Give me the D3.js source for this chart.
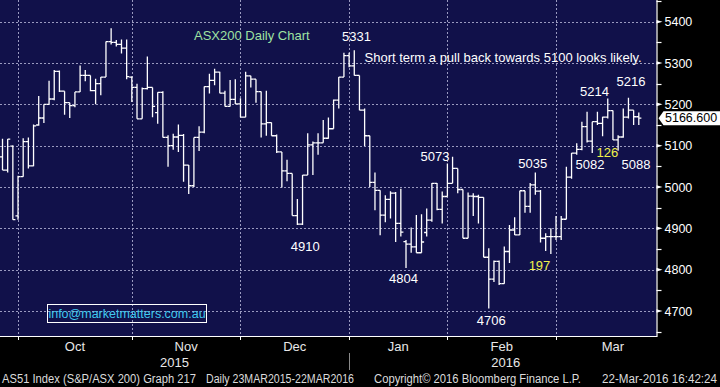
<!DOCTYPE html>
<html><head><meta charset="utf-8">
<script src="https://cdn.jsdelivr.net/npm/d3@7"></script>
<style>
body{margin:0;background:#000;}
svg{display:block;font-family:"Liberation Sans",Arial,sans-serif;}
</style>
</head><body><svg id="c" width="720" height="387"></svg>
<script>
// ---------- DATA ----------
const dates = [
 "2015-09-25","2015-09-28","2015-09-29","2015-09-30",
 "2015-10-01","2015-10-02","2015-10-05","2015-10-06","2015-10-07","2015-10-08","2015-10-09","2015-10-12","2015-10-13","2015-10-14","2015-10-15","2015-10-16","2015-10-19","2015-10-20","2015-10-21","2015-10-22","2015-10-23","2015-10-26","2015-10-27","2015-10-28","2015-10-29","2015-10-30",
 "2015-11-02","2015-11-03","2015-11-04","2015-11-05","2015-11-06","2015-11-09","2015-11-10","2015-11-11","2015-11-12","2015-11-13","2015-11-16","2015-11-17","2015-11-18","2015-11-19","2015-11-20","2015-11-23","2015-11-24","2015-11-25","2015-11-26","2015-11-27","2015-11-30",
 "2015-12-01","2015-12-02","2015-12-03","2015-12-04","2015-12-07","2015-12-08","2015-12-09","2015-12-10","2015-12-11","2015-12-14","2015-12-15","2015-12-16","2015-12-17","2015-12-18","2015-12-21","2015-12-22","2015-12-23","2015-12-24","2015-12-29","2015-12-30","2015-12-31",
 "2016-01-04","2016-01-05","2016-01-06","2016-01-07","2016-01-08","2016-01-11","2016-01-12","2016-01-13","2016-01-14","2016-01-15","2016-01-18","2016-01-19","2016-01-20","2016-01-21","2016-01-22","2016-01-25","2016-01-27","2016-01-28","2016-01-29",
 "2016-02-01","2016-02-02","2016-02-03","2016-02-04","2016-02-05","2016-02-08","2016-02-09","2016-02-10","2016-02-11","2016-02-12","2016-02-15","2016-02-16","2016-02-17","2016-02-18","2016-02-19","2016-02-22","2016-02-23","2016-02-24","2016-02-25","2016-02-26","2016-02-29",
 "2016-03-01","2016-03-02","2016-03-03","2016-03-04","2016-03-07","2016-03-08","2016-03-09","2016-03-10","2016-03-11","2016-03-14","2016-03-15","2016-03-16","2016-03-17","2016-03-18","2016-03-21","2016-03-22"
];
const open = [5073,5041,5099,4930,5025,5110,5051,5150,5167,5200,5213,5280,5232,5204,5197,5230,5270,5270,5233,5250,5266,5352,5350,5345,5336,5266,
 5241,5165,5238,5241,5180,5229,5120,5100,5121,5125,5053,5003,5120,5133,5243,5258,5278,5227,5195,5212,5201,
 5169,5269,5261,5231,5153,5156,5124,5085,5039,5033,4931,4910,5029,5102,5107,5107,5118,5141,5210,5266,5318,
 5293,5270,5186,5124,5011,4992,4932,4970,4985,4912,4868,4862,4855,4841,4890,4920,5009,4946,4977,
 5009,5045,4994,4876,4978,4977,4975,4830,4777,4820,4766,4844,4896,4884,4991,4953,5005,4990,4876,4880,4880,
 4880,4922,5024,5082,5091,5146,5111,5158,5154,5169,5185,5114,5121,5169,5186,5170];
const high = [5117,5116,5101,5027,5118,5120,5151,5220,5200,5257,5283,5282,5232,5204,5230,5294,5283,5270,5262,5266,5352,5384,5356,5357,5357,5268,
 5250,5241,5316,5241,5229,5232,5125,5129,5151,5128,5053,5120,5147,5243,5274,5286,5279,5233,5259,5261,5215,
 5279,5269,5261,5231,5233,5156,5127,5085,5066,5033,4971,5029,5130,5110,5130,5162,5168,5212,5266,5325,5325,
 5331,5270,5190,5124,5035,4992,4980,4990,4988,4996,4872,4902,4932,4934,4948,5010,5010,4989,5057,
 5073,5045,4994,4987,4985,4981,4975,4852,4822,4822,4856,4908,4927,4991,4991,5010,5035,4993,4888,4900,4930,
 4930,5049,5082,5106,5158,5182,5158,5182,5170,5214,5185,5125,5190,5216,5186,5180];
const low = [5041,5035,4921,4921,5025,5045,5050,5148,5155,5200,5210,5230,5175,5167,5193,5230,5256,5232,5200,5222,5266,5345,5340,5323,5261,5206,
 5165,5165,5236,5169,5153,5120,5049,5090,5085,5013,4983,5000,5087,5130,5226,5246,5227,5195,5195,5201,5169,
 5169,5241,5204,5120,5124,5124,5082,4999,5014,4931,4908,4908,5029,5029,5078,5107,5117,5141,5190,5266,5290,
 5270,5186,5099,5000,4944,4883,4915,4924,4867,4880,4804,4841,4841,4841,4880,4916,4944,4912,4977,
 5009,4985,4876,4876,4930,4912,4830,4706,4770,4763,4766,4816,4884,4884,4938,4938,4981,4866,4845,4838,4872,
 4872,4922,5020,5078,5089,5108,5082,5150,5123,5166,5114,5088,5119,5166,5150,5150];
const close = [5041,5116,4921,5025,5110,5051,5148,5167,5200,5213,5280,5232,5204,5197,5230,5270,5270,5233,5250,5266,5352,5350,5345,5336,5267,5241,
 5165,5238,5241,5195,5229,5120,5100,5121,5125,5053,5003,5120,5133,5243,5258,5278,5227,5195,5212,5201,5169,
 5269,5261,5231,5153,5156,5124,5085,5039,5033,4931,4910,5029,5102,5107,5107,5118,5141,5210,5266,5318,5293,
 5270,5186,5124,5011,4992,4932,4970,4985,4912,4891,4862,4855,4841,4867,4920,5009,4946,4977,5009,
 5045,4994,4876,4978,4977,4975,4830,4777,4820,4766,4844,4896,4884,4991,4953,5005,4990,4876,4880,4880,4880,
 4922,5024,5082,5091,5146,5111,5158,5154,5169,5185,5114,5121,5169,5186,5170,5166.6];
const lastPrice = 5166.6;
const yTicks = [4700,4800,4900,5000,5100,5200,5300,5400];
const yMinorTicks = [4650,4750,4850,4950,5050,5150,5250,5350,5450];
const monthStarts = ["2015-10-01","2015-11-02","2015-12-01","2016-01-04","2016-02-01","2016-03-01"];
const monthLabels = ["Oct","Nov","Dec","Jan","Feb","Mar"];
const lastMonthTradingDays = 22;
const yearLabels = ["2015","2016"];
const yearBoundary = "2016-01-04";
const footer = ["AS51 Index (S&P/ASX 200) Graph 217","Daily 23MAR2015-22MAR2016","Copyright\u00A9 2016 Bloomberg Finance L.P.","22-Mar-2016 16:42:24"];
const chartTitle = "ASX200 Daily Chart";
const comment = "Short term a pull back towards 5100 looks likely.";
const contact = "info@marketmatters.com.au";

// ---------- LAYOUT ----------
const W = 720, H = 387, plotR = 656.5, plotB = 336;
const svg = d3.select("#c");
const x = d3.scalePoint().domain(dates).range([2.5, 638.8]);
const step = x.step();
const y = d3.scaleLinear().domain([4700, 5400]).range([311, 21.7]);

svg.append("rect").attr("width", W).attr("height", H).attr("fill", "#000");
svg.append("rect").attr("width", plotR).attr("height", plotB).attr("fill", "#11114a");

// grid
const grid = svg.append("g").attr("stroke", "#9a9ac0").attr("stroke-width", 1).attr("stroke-dasharray", "2,2");
yTicks.forEach(v => {
  const yy = Math.round(y(v)) + 0.5;
  grid.append("line").attr("x1", 0).attr("x2", plotR).attr("y1", yy).attr("y2", yy);
});
const gridX = monthStarts.map(d => x(dates[dates.indexOf(d) - 1]));
gridX.forEach(gx => {
  const xx = Math.round(gx) + 0.5;
  grid.append("line").attr("x1", xx).attr("x2", xx).attr("y1", 0).attr("y2", plotB);
});

// OHLC bars
const t = step / 2;
const bars = svg.append("g").attr("stroke", "#fff").attr("stroke-width", 1.3).attr("fill", "none");
dates.forEach((d, i) => {
  const xx = x(d);
  bars.append("path").attr("d",
    `M${xx},${y(high[i])}V${y(low[i])}M${xx - t},${y(open[i])}H${xx}M${xx},${y(close[i])}H${xx + t}`);
});

// axes lines
svg.append("line").attr("x1", 0).attr("x2", plotR + 0.5).attr("y1", plotB + 0.5).attr("y2", plotB + 0.5).attr("stroke", "#fff").attr("stroke-width", 1.2);
svg.append("line").attr("x1", plotR + 0.5).attr("x2", plotR + 0.5).attr("y1", 0).attr("y2", plotB + 1).attr("stroke", "#fff").attr("stroke-width", 1.2);

// right axis via d3 axis
const yAxis = d3.axisRight(y).tickValues(yTicks).tickSize(0).tickPadding(8).tickFormat(d3.format("d"));
const ya = svg.append("g").attr("transform", `translate(${plotR},0)`).call(yAxis);
ya.select(".domain").remove();
ya.selectAll("text").attr("fill", "#fff").attr("font-size", 12.5).attr("font-family", "Liberation Sans, Arial, sans-serif");
yTicks.forEach(v => {
  const yy = y(v);
  svg.append("path").attr("d", `M${plotR},${yy - 1.8}L${plotR + 6},${yy}L${plotR},${yy + 1.8}Z`).attr("fill", "#fff");
});
yMinorTicks.forEach(v => {
  const yy = Math.round(y(v)) + 0.5;
  svg.append("line").attr("x1", plotR).attr("x2", plotR + 5).attr("y1", yy).attr("y2", yy).attr("stroke", "#fff").attr("stroke-width", 1.2);
});

// last price flag
const yl = y(lastPrice);
svg.append("path").attr("d", `M${plotR + 2},${yl}L${plotR + 7},${yl - 7}L${W},${yl - 7}L${W},${yl + 7}L${plotR + 7},${yl + 7}Z`).attr("fill", "#fff");
svg.append("text").attr("x", plotR + 8.5).attr("y", yl).attr("dominant-baseline", "central")
  .attr("font-size", 12.5).attr("fill", "#000").text(d3.format(".3f")(lastPrice));

// x axis ticks & labels
gridX.forEach(gx => {
  const xx = Math.round(gx) + 0.5;
  svg.append("line").attr("x1", xx).attr("x2", xx).attr("y1", plotB).attr("y2", plotB + 4).attr("stroke", "#fff");
});
monthLabels.forEach((m, k) => {
  const a = gridX[k];
  const b = k + 1 < gridX.length ? gridX[k + 1] : a + lastMonthTradingDays * step;
  svg.append("text").attr("x", (a + b) / 2).attr("y", 346).attr("text-anchor", "middle")
    .attr("dominant-baseline", "central").attr("font-size", 13).attr("fill", "#e8e8e8").text(m);
});
const yb = x(dates[dates.indexOf(yearBoundary) - 1]);
svg.append("text").attr("x", yb / 2).attr("y", 362).attr("text-anchor", "middle").attr("dominant-baseline", "central")
  .attr("font-size", 13).attr("fill", "#e8e8e8").text(yearLabels[0]);
svg.append("text").attr("x", (yb + plotR + 4) / 2 + 1).attr("y", 362).attr("text-anchor", "middle").attr("dominant-baseline", "central")
  .attr("font-size", 13).attr("fill", "#e8e8e8").text(yearLabels[1]);
svg.append("line").attr("x1", Math.round(yb) + 0.5).attr("x2", Math.round(yb) + 0.5).attr("y1", 353).attr("y2", 370).attr("stroke", "#8a8a8a");

// footer
const fpos = [[2, 194], [206, 148], [374, 207], [602, 115]];
footer.forEach((s, k) => {
  svg.append("text").attr("x", fpos[k][0]).attr("y", 379).attr("dominant-baseline", "central")
    .attr("font-size", 12).attr("fill", "#dcdcdc").attr("textLength", fpos[k][1]).attr("lengthAdjust", "spacingAndGlyphs").text(s);
});

// annotations
const ann = [
  {t: chartTitle, x: 194, y: 35, c: "#9fe2a2", a: "start"},
  {t: "5331", x: 356.5, y: 36, c: "#fff", a: "middle"},
  {t: comment, x: 364.5, y: 57.7, c: "#fff", a: "start"},
  {t: "5073", x: 435, y: 156, c: "#fff", a: "middle"},
  {t: "4910", x: 305.3, y: 246, c: "#fff", a: "middle"},
  {t: "4804", x: 403.5, y: 278.3, c: "#fff", a: "middle"},
  {t: "4706", x: 491.3, y: 320, c: "#fff", a: "middle"},
  {t: "5035", x: 532.7, y: 163.3, c: "#fff", a: "middle"},
  {t: "197", x: 539.5, y: 265, c: "#f2f24a", a: "middle"},
  {t: "5214", x: 594.5, y: 91, c: "#fff", a: "middle"},
  {t: "5216", x: 631, y: 81.7, c: "#fff", a: "middle"},
  {t: "5082", x: 590, y: 164, c: "#fff", a: "middle"},
  {t: "126", x: 607.3, y: 152.3, c: "#f2f24a", a: "middle"},
  {t: "5088", x: 636, y: 164, c: "#fff", a: "middle"}
];
ann.forEach(o => {
  svg.append("text").attr("x", o.x).attr("y", o.y).attr("text-anchor", o.a).attr("dominant-baseline", "central")
    .attr("font-size", 13).attr("fill", o.c).text(o.t);
});

// contact box
svg.append("rect").attr("x", 47.5).attr("y", 304.5).attr("width", 159).attr("height", 18)
  .attr("fill", "none").attr("stroke", "#fff").attr("stroke-width", 1);
svg.append("text").attr("x", 127).attr("y", 313.8).attr("text-anchor", "middle").attr("dominant-baseline", "central")
  .attr("font-size", 12.5).attr("fill", "#3fc8ee").text(contact);
</script>
</body></html>
